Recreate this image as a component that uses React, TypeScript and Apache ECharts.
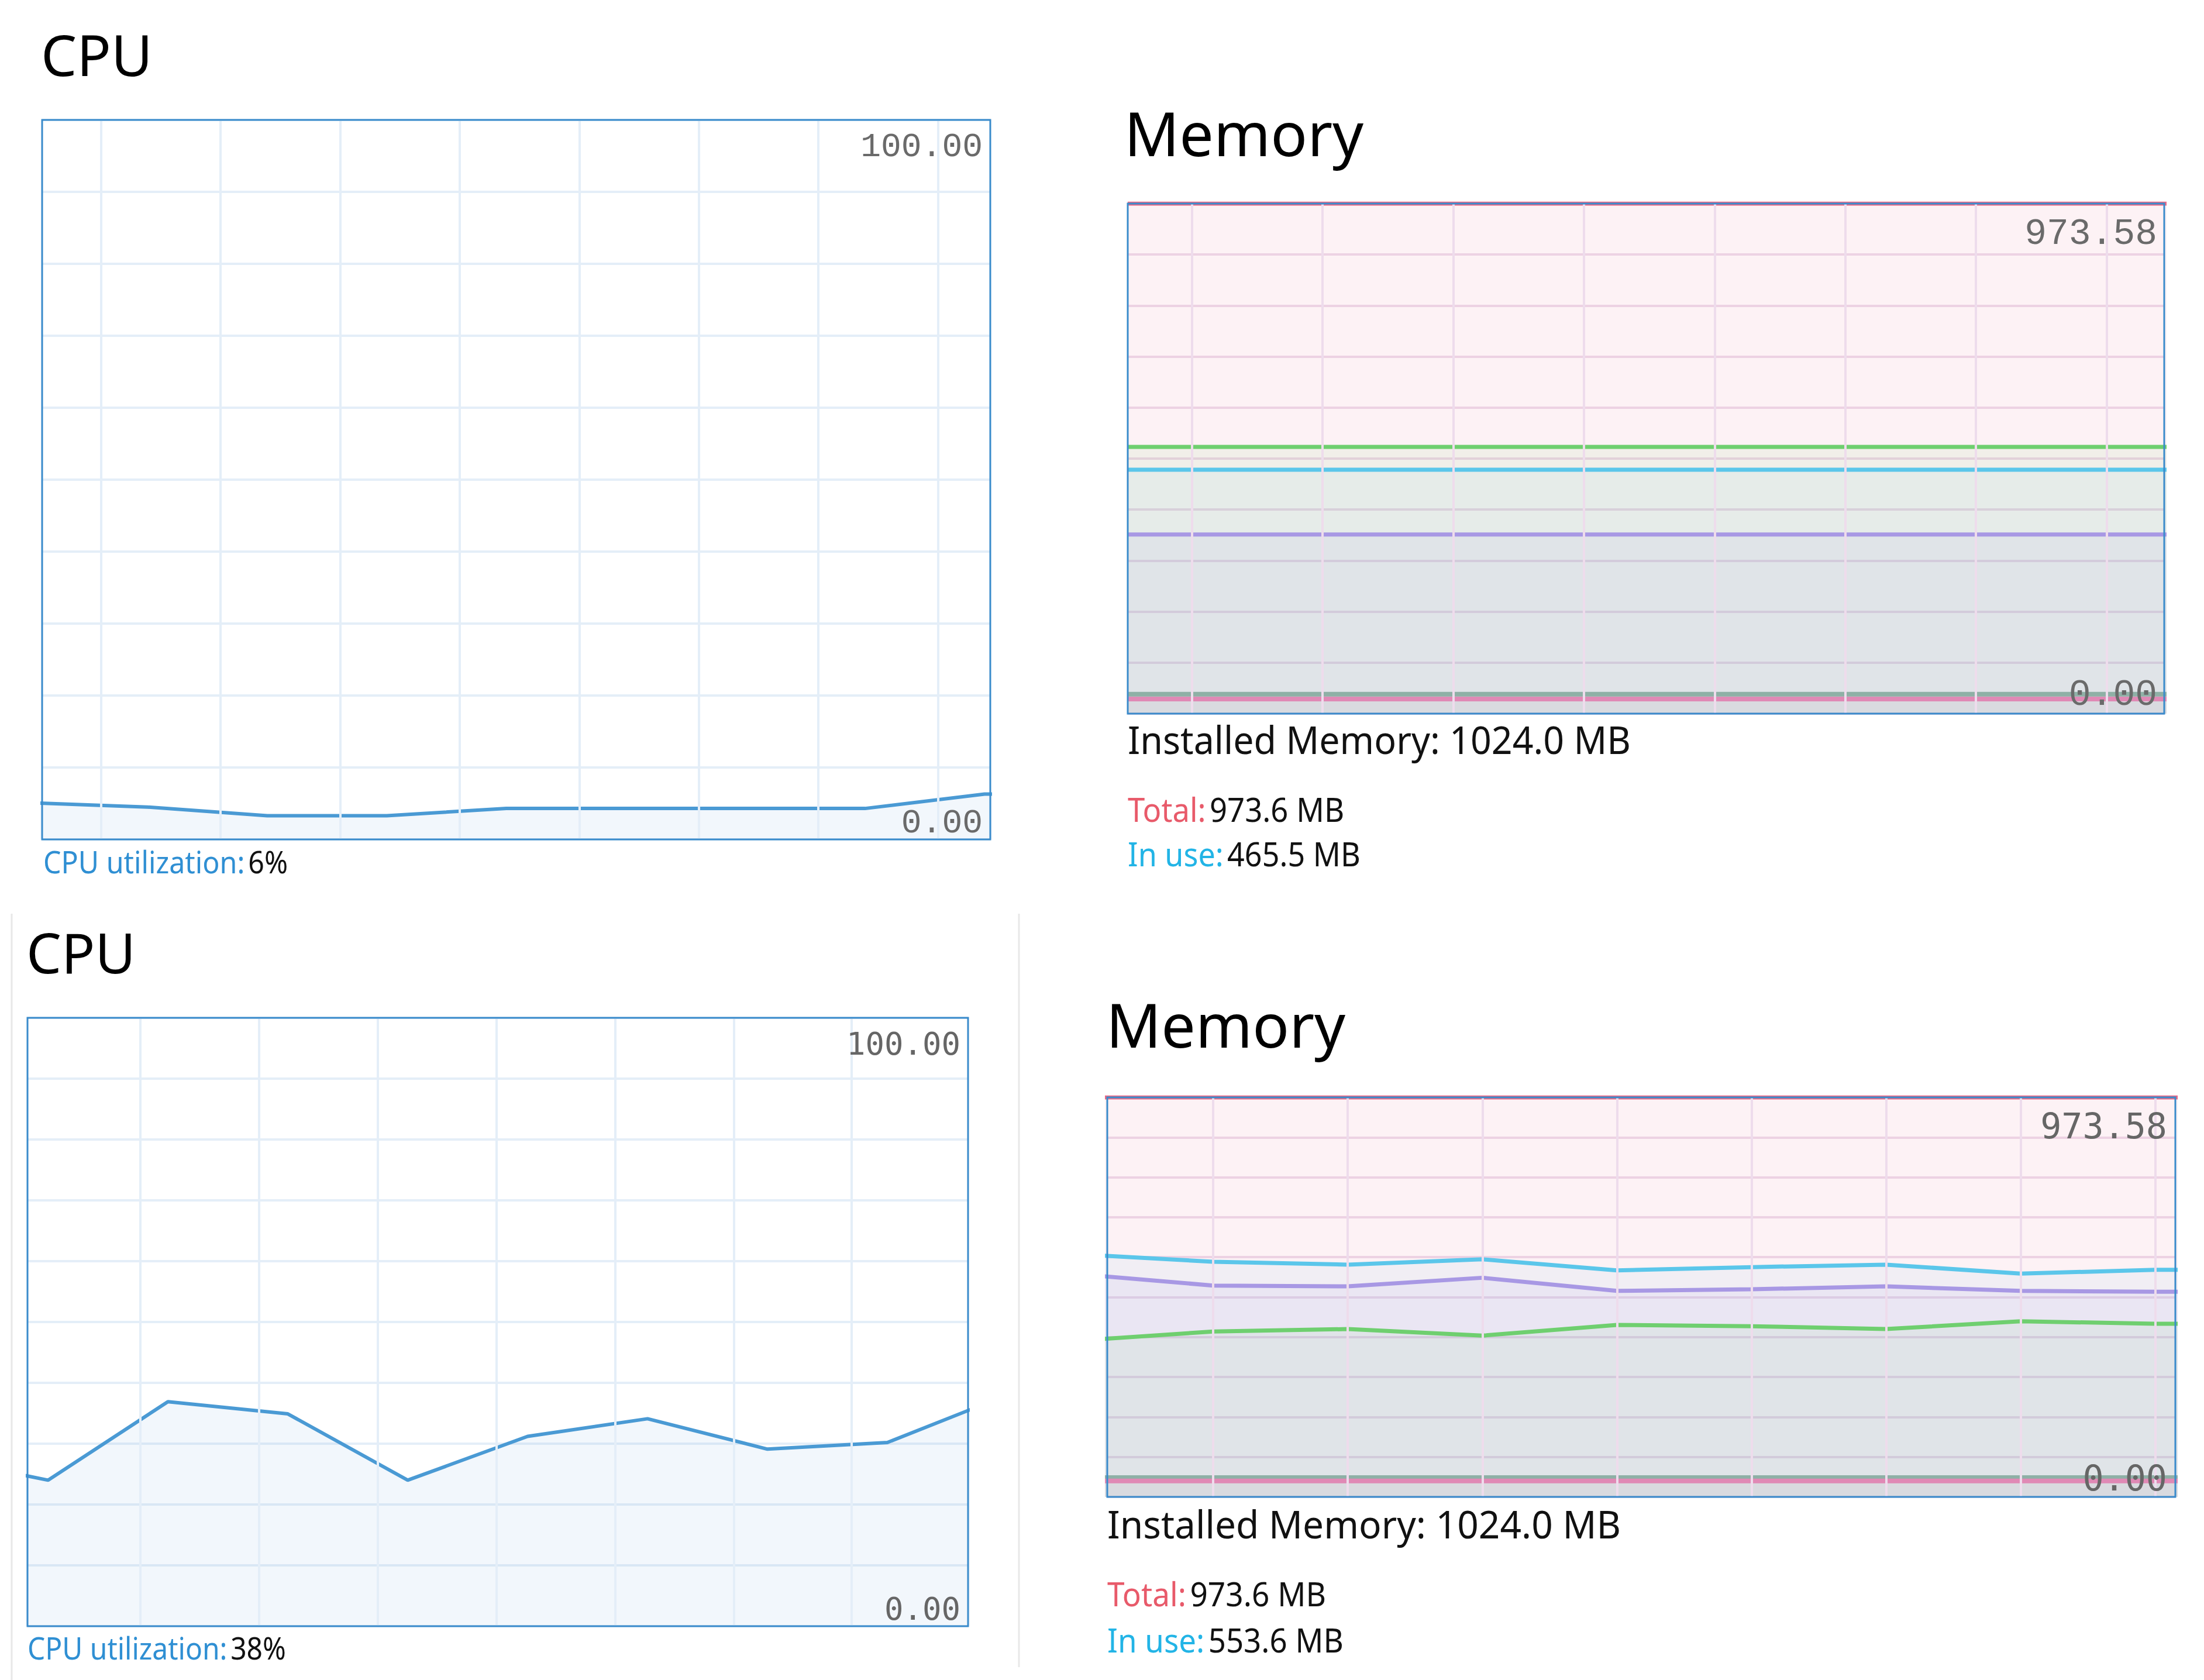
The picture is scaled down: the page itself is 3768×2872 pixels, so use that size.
import React, { useEffect, useRef } from "react";
import * as echarts from "echarts";

// ---------------- data ----------------
// CPU utilisation samples (percent), oldest first
const cpuTopValues = [5.1, 4.5, 3.3, 3.3, 4.3, 4.3, 4.3, 4.3, 6.3, 6.3];
const cpuBottomValues = [28, 24.0, 36.9, 34.9, 24.0, 31.2, 34.1, 29.1, 30.2, 38];

// Memory samples (MB), oldest first
const memTopTotal = [973.58, 973.58, 973.58, 973.58, 973.58, 973.58, 973.58, 973.58, 973.58, 973.58];
const memTopGreen = [509, 509, 509, 509, 509, 509, 509, 509, 509, 509];
const memTopInUse = [465.5, 465.5, 465.5, 465.5, 465.5, 465.5, 465.5, 465.5, 465.5, 465.5];
const memTopPurple = [342, 342, 342, 342, 342, 342, 342, 342, 342, 342];
const memTopGray = [37, 37, 37, 37, 37, 37, 37, 37, 37, 37];
const memTopPink = [28, 28, 28, 28, 28, 28, 28, 28, 28, 28];

const memBottomTotal = [973.58, 973.58, 973.58, 973.58, 973.58, 973.58, 973.58, 973.58, 973.58, 973.58];
const memBottomGreen = [381, 403, 409, 393, 419, 416, 409, 428, 422, 422];
const memBottomInUse = [591, 573, 566, 579, 552, 560, 566, 544, 553.6, 553.6];
const memBottomPurple = [543, 515, 513, 534, 502, 506, 513, 502, 500, 500];
const memBottomGray = [47, 47, 47, 47, 47, 47, 47, 47, 47, 47];
const memBottomPink = [39, 39, 39, 39, 39, 39, 39, 39, 39, 39];

const cpuMax = 100;
const memMax = 973.58;
const cpuScaleLabels = ["100.00", "0.00"];
const memScaleLabels = ["973.58", "0.00"];
const cpuUtilization = ["6%", "38%"];
const installedMemory = "1024.0 MB";
const memTotalText = ["973.6 MB", "973.6 MB"];
const memInUseText = ["465.5 MB", "553.6 MB"];

// ---------------- styling ----------------
const SANS = '"Noto Sans", "Open Sans", sans-serif';
const BORDER = "#3a8bcb";
const CPU_LINE = "#4a9ad4";
const CPU_GRID = "#e4eef8";
const MEM_GRID = "#eedcec";
const MEM_COLORS = {
  total: "#e86a86",
  green: "#6fcf6f",
  inUse: "#5bc6ea",
  purple: "#a898e4",
  gray: "#8fb0a6",
  pink: "#e089b5",
};

function measure(text: string, font: string): number {
  const c = document.createElement("canvas").getContext("2d");
  if (!c) return 1;
  c.font = font;
  return c.measureText(text).width || 1;
}

type Panel = {
  kind: "cpu" | "mem";
  left: number;
  top: number;
  width: number;
  height: number;
  xMin: number;
  xMax: number;
  gridPhase: number;
  gridStep: number;
};

const panels: Panel[] = [
  { kind: "cpu", left: 72, top: 205, width: 1621, height: 1230, xMin: 0.117, xMax: 8.048, gridPhase: 0.61, gridStep: 1.0 },
  { kind: "mem", left: 1928, top: 348, width: 1772, height: 872, xMin: 0, xMax: 7.93, gridPhase: 0.49, gridStep: 1.0 },
  { kind: "cpu", left: 47, top: 1740, width: 1608, height: 1040, xMin: 0.829, xMax: 8.673, gridPhase: 1.771, gridStep: 0.989 },
  { kind: "mem", left: 1893, top: 1876, width: 1826, height: 683, xMin: 0.213, xMax: 8.149, gridPhase: 1, gridStep: 1 },
];

function toPairs(values: number[]) {
  return values.map((v, i) => [i, v]);
}

function gridXs(p: Panel) {
  const xs: number[] = [];
  for (let v = p.gridPhase; v < p.xMax; v += p.gridStep) if (v > p.xMin) xs.push(v);
  return xs;
}

function text(
  x: number,
  yMid: number,
  content: string,
  size: number,
  family: string,
  color: string,
  align: "left" | "right" = "left",
  targetWidth?: number
) {
  const font = `${size}px ${family}`;
  const scaleX = targetWidth ? targetWidth / measure(content, font) : 1;
  return {
    type: "text",
    x,
    y: yMid,
    scaleX,
    z: 110,
    silent: true,
    style: {
      text: content,
      x: 0,
      y: 0,
      font,
      fill: color,
      align,
      verticalAlign: "middle",
      textAlign: align,
      textVerticalAlign: "middle",
    },
  };
}

function richText(
  x: number,
  yMid: number,
  label: string,
  labelColor: string,
  value: string,
  size: number,
  targetWidth: number
) {
  const font = `${size}px ${SANS}`;
  const gap = size * 0.12;
  const w = measure(label, font) + measure(value, font) + gap;
  return {
    type: "text",
    x,
    y: yMid,
    scaleX: targetWidth / w,
    z: 110,
    silent: true,
    style: {
      text: `{a|${label}}{b|${value}}`,
      x: 0,
      y: 0,
      font,
      align: "left",
      verticalAlign: "middle",
      textAlign: "left",
      textVerticalAlign: "middle",
      rich: {
        a: { fill: labelColor, color: labelColor, fontSize: size, fontFamily: SANS },
        b: { fill: "#111111", color: "#111111", fontSize: size, fontFamily: SANS, padding: [0, 0, 0, gap] },
      },
    },
  };
}

function buildOption() {
  const grid = panels.map((p) => ({
    left: p.left,
    top: p.top,
    width: p.width,
    height: p.height,
    show: false,
    outerBoundsMode: "none",
    containLabel: false,
  }));
  const xAxis = panels.map((p, i) => ({
    type: "value",
    gridIndex: i,
    min: p.xMin,
    max: p.xMax,
    show: false,
  }));
  const yAxis = panels.map((p, i) => {
    const max = p.kind === "cpu" ? cpuMax : memMax;
    return {
      type: "value",
      gridIndex: i,
      min: 0,
      max,
      interval: max / 10,
      axisLabel: { show: false },
      axisLine: { show: false },
      axisTick: { show: false },
      splitLine: { show: true, lineStyle: { color: p.kind === "cpu" ? CPU_GRID : MEM_GRID, width: 4 } },
    };
  });

  const series: any[] = [];
  panels.forEach((p, i) => {
    series.push({
      type: "line",
      xAxisIndex: i,
      yAxisIndex: i,
      data: [],
      z: 1,
      silent: true,
      markLine: {
        silent: true,
        symbol: ["none", "none"],
        label: { show: false },
        emphasis: { disabled: true },
        lineStyle: { color: p.kind === "cpu" ? CPU_GRID : MEM_GRID, width: 4, type: "solid" },
        data: gridXs(p).map((v) => ({ xAxis: v })),
      },
    });
  });

  const lineSeries = (i: number, values: number[], color: string, width: number, opacity: number) => ({
    type: "line",
    xAxisIndex: i,
    yAxisIndex: i,
    data: toPairs(values),
    showSymbol: false,
    symbol: "none",
    clip: true,
    silent: true,
    z: 2,
    lineStyle: { color, width },
    areaStyle: { color, opacity },
  });

  series.push(lineSeries(0, cpuTopValues, CPU_LINE, 6, 0.075));
  series.push(lineSeries(2, cpuBottomValues, CPU_LINE, 6, 0.075));

  const memSets = [
    [memTopTotal, memTopGreen, memTopInUse, memTopPurple, memTopGray, memTopPink],
    [memBottomTotal, memBottomGreen, memBottomInUse, memBottomPurple, memBottomGray, memBottomPink],
  ];
  const memCols = [MEM_COLORS.total, MEM_COLORS.green, MEM_COLORS.inUse, MEM_COLORS.purple, MEM_COLORS.gray, MEM_COLORS.pink];
  const memOp = [0.085, 0.085, 0.07, 0.085, 0.08, 0.06];
  const memWidth = [7, 7, 7, 7, 8, 8];
  memSets.forEach((set, k) => {
    const gi = k === 0 ? 1 : 3;
    set.forEach((vals, j) => series.push(lineSeries(gi, vals, memCols[j], memWidth[j], memOp[j])));
  });

  const graphic: any[] = [];
  // borders
  panels.forEach((p) => {
    graphic.push({
      type: "rect",
      z: 100,
      silent: true,
      shape: { x: p.left, y: p.top, width: p.width, height: p.height },
      style: { fill: "none", stroke: BORDER, lineWidth: 3 },
    });
  });
  // separators of the lower-left pane
  graphic.push({ type: "line", z: 50, silent: true, shape: { x1: 20, y1: 1562, x2: 20, y2: 2872 }, style: { stroke: "#e8e8e8", lineWidth: 3 } });
  graphic.push({ type: "line", z: 50, silent: true, shape: { x1: 1742, y1: 1562, x2: 1742, y2: 2850 }, style: { stroke: "#e8e8e8", lineWidth: 3 } });

  // titles
  graphic.push(text(70, 92, "CPU", 97, SANS, "#000000"));
  graphic.push(text(1922, 226, "Memory", 104, SANS, "#000000"));
  graphic.push(text(45, 1627, "CPU", 95, SANS, "#000000"));
  graphic.push(text(1891, 1750, "Memory", 104, SANS, "#000000"));

  // scale labels
  const MONO_A = '"Liberation Mono", "Courier New", monospace';
  const MONO_B = '"DejaVu Sans Mono", monospace';
  graphic.push(text(1680, 251, cpuScaleLabels[0], 58, MONO_A, "#6a6a6a", "right"));
  graphic.push(text(1680, 1407, cpuScaleLabels[1], 58, MONO_A, "#6a6a6a", "right"));
  graphic.push(text(3688, 400, memScaleLabels[0], 63, MONO_A, "#6a6a6a", "right"));
  graphic.push(text(3688, 1188, memScaleLabels[1], 63, MONO_A, "#6a6a6a", "right"));
  graphic.push(text(1642, 1784, cpuScaleLabels[0], 54, MONO_B, "#666666", "right"));
  graphic.push(text(1642, 2750, cpuScaleLabels[1], 54, MONO_B, "#666666", "right"));
  graphic.push(text(3705, 1925, memScaleLabels[0], 60, MONO_B, "#666666", "right"));
  graphic.push(text(3705, 2527, memScaleLabels[1], 60, MONO_B, "#666666", "right"));

  // footers
  const CPU_BLUE = "#2f8fd3";
  const TOTAL_RED = "#e85a6a";
  const INUSE_CYAN = "#22b4e6";
  graphic.push(richText(74, 1473, "CPU utilization:", CPU_BLUE, cpuUtilization[0], 52, 418));
  graphic.push(richText(47, 2817, "CPU utilization:", CPU_BLUE, cpuUtilization[1], 52, 442));

  graphic.push(text(1928, 1263, `Installed Memory: ${installedMemory}`, 66, SANS, "#111111", "left", 860));
  graphic.push(richText(1928, 1383, "Total:", TOTAL_RED, memTotalText[0], 56, 370));
  graphic.push(richText(1928, 1459, "In use:", INUSE_CYAN, memInUseText[0], 56, 398));

  graphic.push(text(1893, 2605, `Installed Memory: ${installedMemory}`, 66, SANS, "#111111", "left", 878));
  graphic.push(richText(1893, 2724, "Total:", TOTAL_RED, memTotalText[1], 56, 374));
  graphic.push(richText(1893, 2803, "In use:", INUSE_CYAN, memInUseText[1], 56, 404));

  return {
    animation: false,
    backgroundColor: "#ffffff",
    grid,
    xAxis,
    yAxis,
    series,
    graphic: { elements: graphic },
  };
}

export default function App() {
  const ref = useRef<HTMLDivElement>(null);
  useEffect(() => {
    if (!ref.current) return;
    const chart = echarts.init(ref.current, null, { renderer: "svg" });
    chart.setOption(buildOption() as any);
    return () => chart.dispose();
  }, []);
  return (
    <div
      ref={ref}
      style={{ position: "absolute", left: 0, top: 0, width: 3768, height: 2872, background: "#ffffff" }}
    />
  );
}
